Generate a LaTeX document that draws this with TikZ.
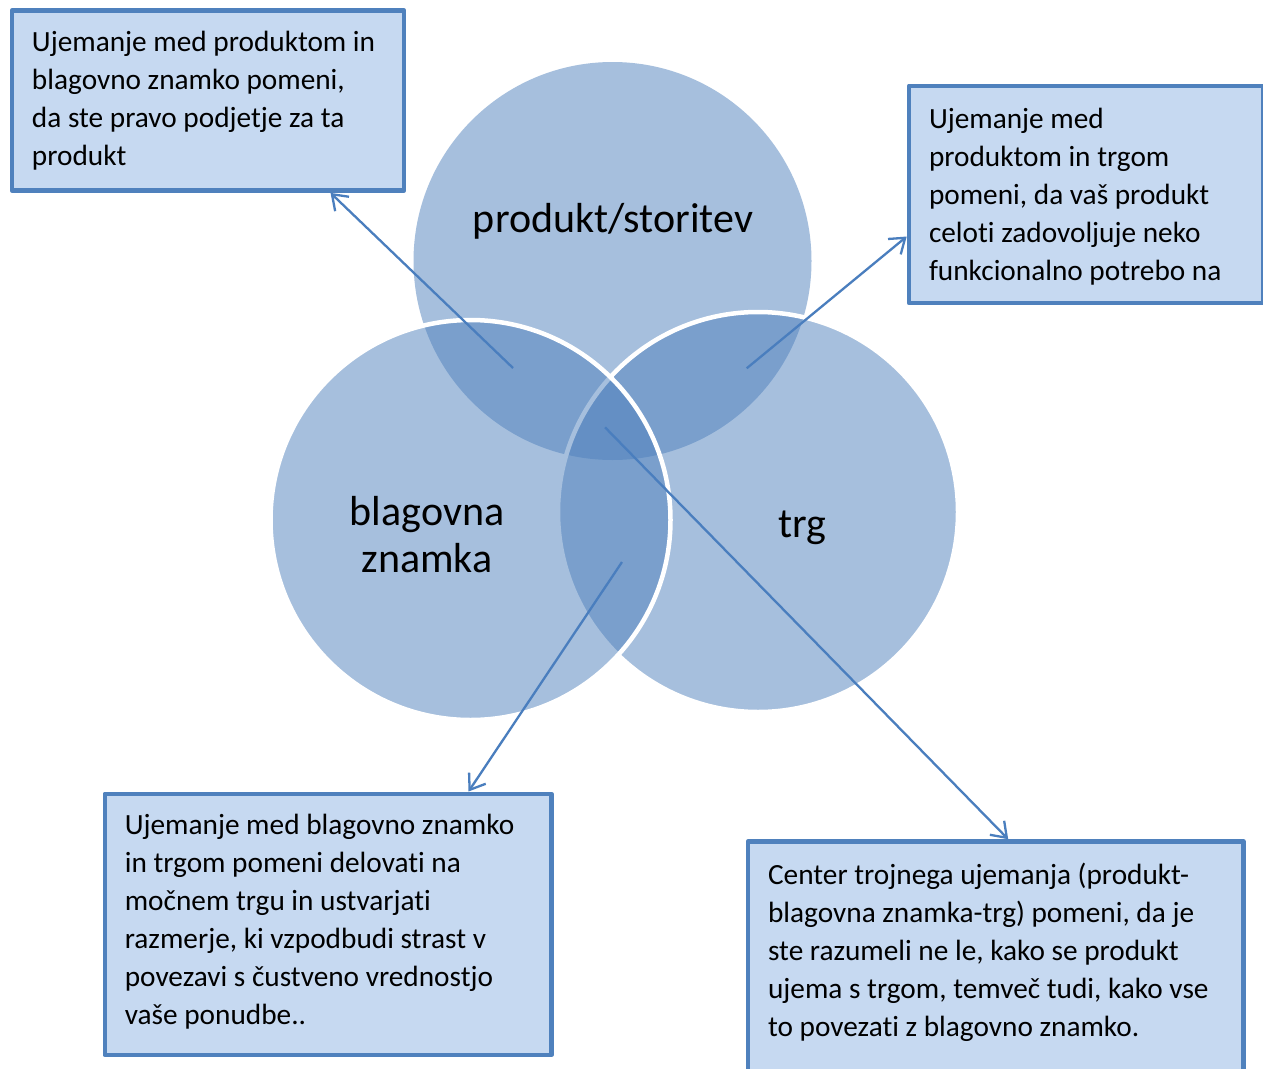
\documentclass[tikz,border=0pt]{standalone}
\usepackage{fontspec}
\setmainfont{Carlito}[Ligatures={NoCommon}]
\usetikzlibrary{arrows.meta,calc}

\definecolor{vennblue}{RGB}{79,129,189}
\definecolor{boxfill}{RGB}{198,217,241}
\definecolor{boxline}{RGB}{79,129,189}
\definecolor{pointerblue}{RGB}{74,126,190}

% text set inside the note boxes
\newcommand\notefont{\fontsize{29.3pt}{38pt}\selectfont}
% #1 width, #2 height, #3 first baseline drop, #4 lines
\newcommand\notebody[4]{\parbox[t][#2][t]{#1}{\notefont\raggedright\leftskip=20pt\rule{0pt}{#3}#4}}

\begin{document}
\begin{tikzpicture}[x=1pt,y=-1pt,
  venn/.style={circle, inner sep=0pt, fill=vennblue, fill opacity=0.5},
  vennrim/.style={venn, draw=white, draw opacity=1, line width=4.5pt},
  note/.style={draw=boxline, fill=boxfill, line width=4.6pt, line join=round,
    inner sep=0pt, anchor=north west},
  setname/.style={font=\fontsize{42pt}{47pt}\selectfont, inner sep=0pt, text=black},
  pointer/.style={draw=pointerblue, line width=2.3pt,
    -{Straight Barb[length=14pt,width=20pt]}}
]
\useasboundingbox (0,0) rectangle (1263,1068);
\clip (0,0) rectangle (1263,1068);
\fill[white] (0,0) rectangle (1263,1068);

% the three overlapping sets
\node[venn, minimum size=398pt] (cprod) at (612.5,261) {};
\node[vennrim, minimum size=400pt] (cmarket) at (758,512) {};
\node[vennrim, minimum size=400pt] (cbrand) at (470.5,520) {};

% set names
\node[setname, anchor=base] (lprod) at (613,232) {produkt/storitev};
\node[setname, anchor=north, align=center] (lbrand) at (427,485)
  {\rule{0pt}{40pt}blagovna\\znamka};
\node[setname, anchor=base] (lmarket) at (802,537) {trg};

% explanation boxes
\node[note] (box1) at (9.7,8.3) {\notebody{392pt}{180pt}{41.2pt}{%
  Ujemanje med produktom in\\blagovno znamko pomeni,\\da ste pravo podjetje za ta\\produkt}};
\node[note] (box2) at (906.7,83.5) {\notebody{354.3pt}{217.2pt}{43pt}{%
  Ujemanje med\\produktom in trgom\\pomeni, da vaš produkt\\celoti zadovoljuje neko\\funkcionalno potrebo na}};
\node[note] (box3) at (102.5,791.5) {\notebody{446.7pt}{261pt}{40.5pt}{%
  Ujemanje med blagovno znamko\\in trgom pomeni delovati na\\močnem trgu in ustvarjati\\razmerje, ki vzpodbudi strast v\\povezavi s čustveno vrednostjo\\vaše ponudbe..}};
\node[note] (box4) at (745.8,839.2) {\notebody{495.2pt}{260pt}{42.8pt}{%
  Center trojnega ujemanja (produkt-\\blagovna znamka-trg) pomeni, da je\\ste razumeli ne le, kako se produkt\\ujema s trgom, temveč tudi, kako vse\\to povezati z blagovno znamko.}};

% pointers from the overlap regions to their boxes
\coordinate (p1) at (513,368);
\coordinate (p2) at (746.7,368.3);
\coordinate (p3) at (622,562);
\coordinate (p4) at (605,427.3);
\draw[pointer] (p1) -- ($(box1.south west)!0.809!(box1.south east)$);
\draw[pointer] (p2) -- ($(box2.north west)!0.69!(box2.south west)$);
\draw[pointer] (p3) -- ($(box3.north west)!0.811!(box3.north east)$);
\draw[pointer] (p4) -- ($(box4.north west)!0.525!(box4.north east)$);
\end{tikzpicture}
\end{document}
